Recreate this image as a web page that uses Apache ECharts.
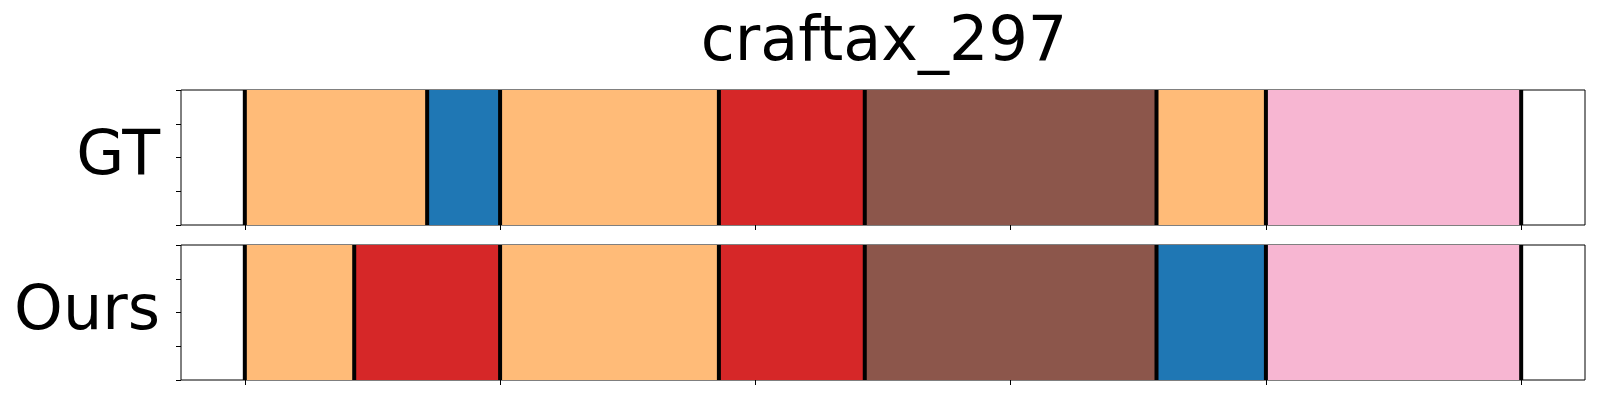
<!DOCTYPE html>
<html>
<head>
<meta charset="utf-8">
<script src="https://cdn.jsdelivr.net/npm/echarts@6/dist/echarts.min.js"></script>
<style>
html,body{margin:0;padding:0;background:#fff;}
#chart{width:1600px;height:400px;}
</style>
</head>
<body>
<div id="chart"></div>
<script>
// ---- data ----
const title = 'craftax_297';
const rowNames = ['GT', 'Ours'];
const xTicks = [0, 7, 14, 21, 28, 35];
const yTicks = [0, 0.25, 0.5, 0.75, 1];
const gtStart = [0, 5, 7, 13, 17, 25, 28];
const gtEnd   = [5, 7, 13, 17, 25, 28, 35];
const gtClass = [1, 0, 1, 2, 3, 1, 4];
const oursStart = [0, 3, 7, 13, 17, 25, 28];
const oursEnd   = [3, 7, 13, 17, 25, 28, 35];
const oursClass = [1, 2, 1, 2, 3, 0, 4];

// ---- styles ----
const palette = ['#1f77b4', '#ffbb78', '#d62728', '#8c564b', '#f7b6d2'];
const FONT = 'DejaVu Sans';

function segData(st, en, cl) { return st.map((s, i) => [s, en[i], cl[i]]); }
function boundaries(st, en) { return [st[0]].concat(en); }

const chart = echarts.init(document.getElementById('chart'), null, {renderer: 'canvas'});

const grids = [
  {left: 181, right: 15, top: 90, height: 135, show: true, borderColor: '#000', borderWidth: 1, backgroundColor: 'transparent'},
  {left: 181, right: 15, top: 245, height: 135, show: true, borderColor: '#000', borderWidth: 1, backgroundColor: 'transparent'}
];

function xAxis(i) {
  return {
    type: 'value', gridIndex: i, min: -1.75, max: 36.75,
    axisLine: {show: false, onZero: false},
    axisTick: {show: true, inside: false, length: 5, customValues: xTicks, lineStyle: {color: '#000', width: 1}},
    axisLabel: {show: false, customValues: xTicks},
    splitLine: {show: false}
  };
}
function yAxis(i) {
  return {
    type: 'value', gridIndex: i, min: 0, max: 1,
    name: rowNames[i], nameLocation: 'middle', nameRotate: 0, nameGap: 21,
    nameTextStyle: {fontFamily: FONT, fontSize: 62, color: '#000', align: 'right', verticalAlign: 'middle', padding: [0, 0, i === 0 ? 12 : 9, 0]},
    axisLine: {show: false, onZero: false},
    axisTick: {show: true, inside: false, length: 5, customValues: yTicks, lineStyle: {color: '#000', width: 1}},
    axisLabel: {show: false, customValues: yTicks},
    splitLine: {show: false}
  };
}

function rectSeries(i, data) {
  return {
    type: 'custom', xAxisIndex: i, yAxisIndex: i, data: data,
    encode: {x: [0, 1]},
    renderItem: function (params, api) {
      const p0 = api.coord([api.value(0), 1]);
      const p1 = api.coord([api.value(1), 0]);
      return {type: 'rect', shape: {x: p0[0], y: p0[1], width: p1[0] - p0[0], height: p1[1] - p0[1]},
        style: {fill: palette[api.value(2)]}};
    },
    z: 2
  };
}
function lineSeries(i, data) {
  return {
    type: 'custom', xAxisIndex: i, yAxisIndex: i, data: data.map(v => [v]),
    encode: {x: 0},
    renderItem: function (params, api) {
      const a = api.coord([api.value(0), 1]);
      const b = api.coord([api.value(0), 0]);
      return {type: 'line', shape: {x1: a[0], y1: a[1], x2: b[0], y2: b[1]},
        style: {stroke: '#000', lineWidth: 4}};
    },
    z: 3
  };
}

chart.setOption({
  animation: false,
  backgroundColor: '#fff',
  title: {text: title, left: 879, top: 8, textAlign: 'center',
    textStyle: {fontFamily: FONT, fontSize: 62, fontWeight: 'normal', color: '#000'}},
  grid: grids,
  xAxis: [xAxis(0), xAxis(1)],
  yAxis: [yAxis(0), yAxis(1)],
  series: [
    rectSeries(0, segData(gtStart, gtEnd, gtClass)),
    lineSeries(0, boundaries(gtStart, gtEnd)),
    rectSeries(1, segData(oursStart, oursEnd, oursClass)),
    lineSeries(1, boundaries(oursStart, oursEnd))
  ]
});
</script>
</body>
</html>
